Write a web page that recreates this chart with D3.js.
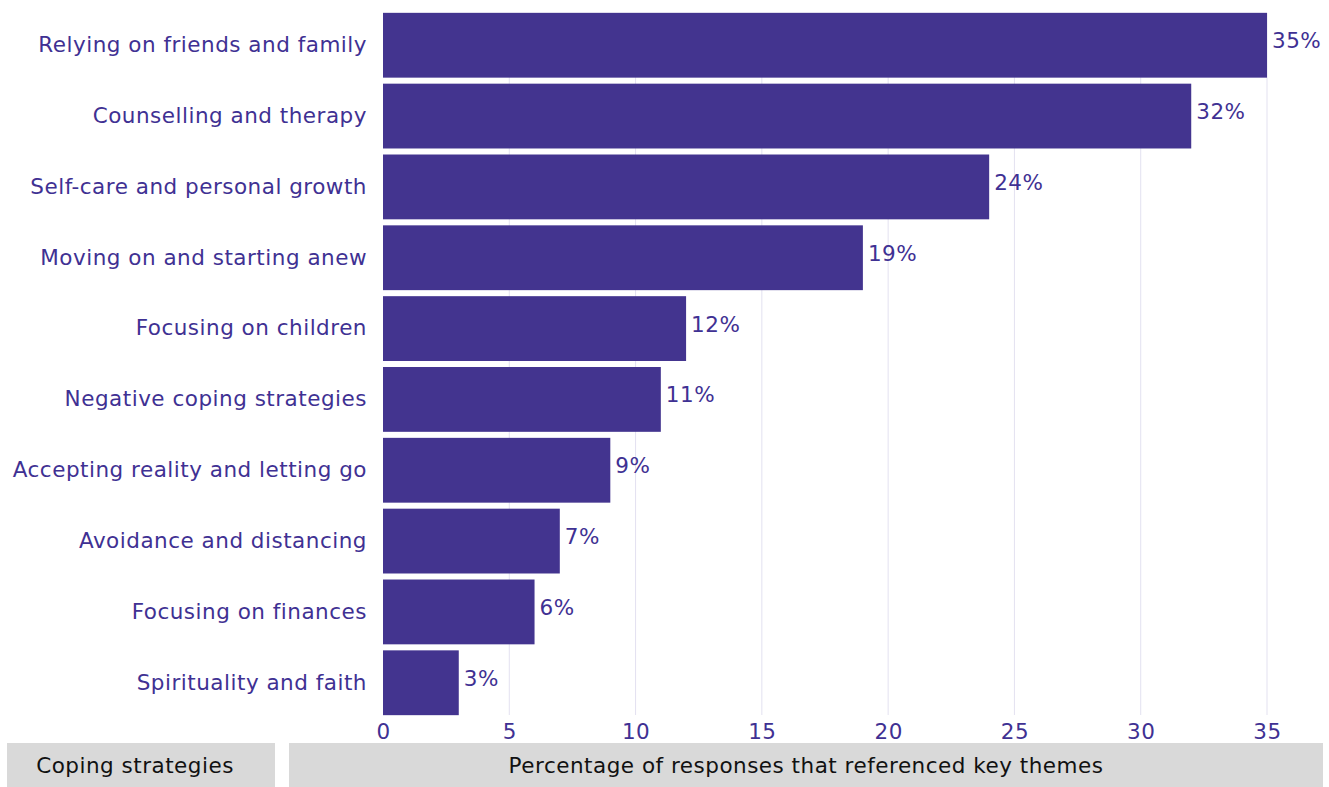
<!DOCTYPE html>
<html>
<head>
<meta charset="utf-8">
<script src="https://cdn.jsdelivr.net/npm/d3@7"></script>
<style>
  html, body { margin: 0; padding: 0; background: #fff; }
  svg { display: block; font-family: "DejaVu Sans", "Open Sans", sans-serif; }
</style>
</head>
<body>
<svg id="chart" width="1329" height="787"></svg>
<script>
// Coping strategies and share of responses mentioning each theme (%)
const categories = [
  "Relying on friends and family",
  "Counselling and therapy",
  "Self-care and personal growth",
  "Moving on and starting anew",
  "Focusing on children",
  "Negative coping strategies",
  "Accepting reality and letting go",
  "Avoidance and distancing",
  "Focusing on finances",
  "Spirituality and faith"
];
const values = [35, 32, 24, 19, 12, 11, 9, 7, 6, 3];
const xTicks = [0, 5, 10, 15, 20, 25, 30, 35];
const yTitle = "Coping strategies";
const xTitle = "Percentage of responses that referenced key themes";

const barColor = "#43348f";
const textColor = "#3f3193";
const fontSize = 21.5;
const spacing = 0.5;

const svg = d3.select("#chart");
const plotLeft = 383, plotRight = 1267, plotTop = 13, plotBottom = 715;

const x = d3.scaleLinear().domain([0, 35]).range([plotLeft, plotRight]);
const y = d3.scaleBand().domain(categories).range([plotTop - 3, plotBottom + 3])
  .paddingInner(0.085).paddingOuter(0.04);

// vertical gridlines
svg.append("g").selectAll("line").data(xTicks.slice(1)).join("line")
  .attr("x1", d => x(d)).attr("x2", d => x(d))
  .attr("y1", plotTop).attr("y2", plotBottom)
  .attr("stroke", "#e3e1f0").attr("stroke-width", 1);

// bars
svg.append("g").selectAll("rect").data(values).join("rect")
  .attr("x", x(0))
  .attr("y", (d, i) => y(categories[i]))
  .attr("width", d => x(d) - x(0))
  .attr("height", y.bandwidth())
  .attr("fill", barColor);

// value labels
svg.append("g").selectAll("text").data(values).join("text")
  .attr("x", d => x(d) + 5)
  .attr("y", (d, i) => y(categories[i]) + y.bandwidth() / 2 - 3)
  .attr("dominant-baseline", "middle")
  .attr("font-size", fontSize)
  .attr("letter-spacing", spacing)
  .attr("fill", textColor)
  .text(d => d + "%");

// category axis labels
const yAxis = d3.axisLeft(y).tickSize(0).tickPadding(16);
const gy = svg.append("g").attr("transform", `translate(${plotLeft},0)`).call(yAxis);
gy.select(".domain").remove();
gy.selectAll("text").attr("font-size", fontSize).attr("fill", textColor)
  .attr("letter-spacing", spacing)
  .attr("font-family", "\"DejaVu Sans\", sans-serif");

// value axis labels
const xAxis = d3.axisBottom(x).tickValues(xTicks).tickSize(0).tickPadding(9);
const gx = svg.append("g").attr("transform", `translate(0,${plotBottom})`).call(xAxis);
gx.select(".domain").remove();
gx.selectAll("text").attr("font-size", fontSize).attr("fill", textColor)
  .attr("letter-spacing", spacing)
  .attr("font-family", "\"DejaVu Sans\", sans-serif");

// title boxes
svg.append("rect").attr("x", 7).attr("y", 743).attr("width", 268).attr("height", 44).attr("fill", "#d9d9d9");
svg.append("rect").attr("x", 289).attr("y", 743).attr("width", 1034).attr("height", 44).attr("fill", "#d9d9d9");
svg.append("text").attr("x", 135).attr("y", 767).attr("text-anchor", "middle")
  .attr("dominant-baseline", "middle").attr("font-size", fontSize).attr("letter-spacing", spacing)
  .attr("fill", "#111").text(yTitle);
svg.append("text").attr("x", 806).attr("y", 767).attr("text-anchor", "middle")
  .attr("dominant-baseline", "middle").attr("font-size", fontSize).attr("letter-spacing", spacing)
  .attr("fill", "#111").text(xTitle);
</script>
</body>
</html>
